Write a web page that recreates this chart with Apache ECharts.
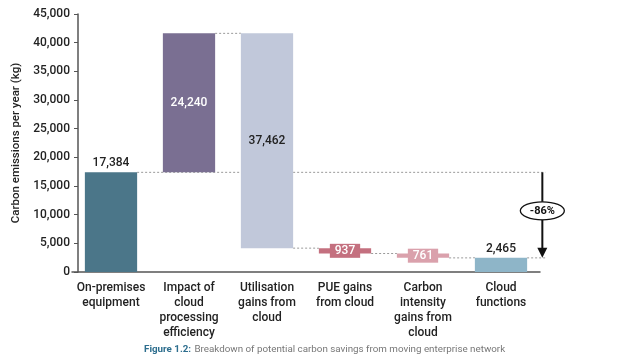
<!DOCTYPE html>
<html><head><meta charset="utf-8">
<script src="https://cdn.jsdelivr.net/npm/echarts@6/dist/echarts.min.js"></script>
<style>html,body{margin:0;padding:0;background:#fff}#c{width:627px;height:355px}</style>
</head><body><div id="c"></div>
<script>
const categories = ['On-premises\nequipment', 'Impact of\ncloud\nprocessing\nefficiency', 'Utilisation\ngains from\ncloud', 'PUE gains\nfrom cloud', 'Carbon\nintensity\ngains from\ncloud', 'Cloud\nfunctions'];
const values = [17384, 24240, -37462, -937, -761, 2465];
const kinds = ['total', 'delta', 'delta', 'delta', 'delta', 'total'];
const valueLabels = ['17,384', '24,240', '37,462', '937', '761', '2,465'];
const yMin = 0, yMax = 45000, yStep = 5000;
const yName = 'Carbon emissions per year (kg)';
const captionHead = 'Figure 1.2:';
const captionBody = 'Breakdown of potential carbon savings from moving enterprise network';

const barColors = ['#4b7689', '#7a6f92', '#c1c8da', '#c4707f', '#daa1ac', '#8eb5c8'];
const labelColors = ['#222', '#fff', '#222', '#fff', '#fff', '#222'];
const FONT = 'Roboto';

// build waterfall extents
let running = 0;
const wf = values.map((v, i) => {
  let lo, hi, end;
  if (kinds[i] === 'total') { lo = 0; hi = v; running = v; end = v; }
  else { const s = running; running += v; lo = Math.min(s, running); hi = Math.max(s, running); end = running; }
  return [i, lo, hi, end];
});
const pct = Math.round((values[values.length - 1] - values[0]) / values[0] * 100) + '%';

const BW = 0.67;
function barsRender(params, api) {
  const i = api.value(0), lo = api.value(1), hi = api.value(2);
  const band = api.size([1, 0])[0];
  const bw = band * BW;
  const pt = api.coord([i, hi]), pb = api.coord([i, lo]);
  const cx = pt[0];
  const ch = [];
  ch.push({ type: 'rect', shape: { x: cx - bw / 2, y: pt[1], width: bw, height: pb[1] - pt[1] }, style: { fill: barColors[i] } });
  const small = kinds[i] === 'delta' && (pb[1] - pt[1]) < 12;
  const txtStyle = (x, y, c) => ({ type: 'text', x, y, style: { text: valueLabels[i], fill: c, font: '500 12px ' + FONT, align: 'center', verticalAlign: 'middle' } });
  if (small) {
    const my = (pt[1] + pb[1]) / 2, boxW = bw * 0.58, boxH = 14;
    ch.push({ type: 'rect', shape: { x: cx - boxW / 2, y: my - boxH / 2, width: boxW, height: boxH }, style: { fill: barColors[i] } });
    ch.push(txtStyle(cx, my + 0.5, labelColors[i]));
  } else if (kinds[i] === 'total') {
    ch.push(txtStyle(cx, pt[1] - 9, labelColors[i]));
  } else {
    ch.push(txtStyle(cx, (pt[1] + pb[1]) / 2, labelColors[i]));
  }
  if (i === values.length - 1) {
    const ax = cx + band * 0.53;
    const yTop = api.coord([0, values[0]])[1];
    const yBot = pt[1];
    ch.push({ type: 'line', shape: { x1: ax, y1: yTop, x2: ax, y2: yBot - 8 }, style: { stroke: '#111', lineWidth: 2 } });
    ch.push({ type: 'polygon', shape: { points: [[ax - 5, yBot - 10], [ax + 5, yBot - 10], [ax, yBot]] }, style: { fill: '#111' } });
    const ey = yTop + (yBot - yTop) * 0.45;
    ch.push({ type: 'ellipse', shape: { cx: ax, cy: ey, rx: 22, ry: 9 }, style: { fill: '#fff', stroke: '#111', lineWidth: 1.3 } });
    ch.push({ type: 'text', x: ax, y: ey + 0.5, style: { text: pct, fill: '#111', font: 'bold 11px ' + FONT, align: 'center', verticalAlign: 'middle' } });
  }
  return { type: 'group', children: ch };
}

function connRender(params, api) {
  const i = api.value(0), end = api.value(3);
  const band = api.size([1, 0])[0];
  const bw = band * BW;
  const p = api.coord([i, end]);
  const n = values.length;
  let x2;
  if (i === 0 || i === n - 1) x2 = api.coord([n - 1, 0])[0] + band * 0.53 + 3;
  else x2 = api.coord([i + 1, 0])[0] - bw / 2;
  return { type: 'line', shape: { x1: p[0] + bw / 2, y1: p[1], x2, y2: p[1] }, style: { stroke: '#9a9a9a', lineWidth: 1, lineDash: [2, 2] } };
}

const chart = echarts.init(document.getElementById('c'));
chart.setOption({
  animation: false,
  grid: { left: 72, right: 87, top: 14, bottom: 83 },
  xAxis: {
    type: 'category', data: categories,
    axisLine: { lineStyle: { color: '#555', width: 1.5 } },
    axisTick: { show: false },
    axisLabel: { color: '#222', fontFamily: FONT, fontSize: 12, fontWeight: 500, lineHeight: 15, margin: 8, interval: 0 }
  },
  yAxis: {
    type: 'value', min: yMin, max: yMax, interval: yStep, offset: -6,
    name: yName, nameLocation: 'middle', nameGap: 52,
    nameTextStyle: { color: '#222', fontFamily: FONT, fontSize: 11.5, fontWeight: 500 },
    axisLine: { show: true, lineStyle: { color: '#555', width: 1.5 } },
    axisTick: { show: true, length: 4, lineStyle: { color: '#555' } },
    splitLine: { show: false },
    axisLabel: { color: '#222', fontFamily: FONT, fontSize: 12, fontWeight: 500, margin: 8,
      formatter: v => v.toLocaleString('en-US') }
  },
  series: [
    { type: 'custom', z: 1, renderItem: connRender, data: wf, encode: { x: 0, y: [1, 2] }, silent: true },
    { type: 'custom', z: 2, renderItem: barsRender, data: wf, encode: { x: 0, y: [1, 2] }, silent: true }
  ],
  graphic: [{
    type: 'text', left: 144, top: 344,
    style: { text: '{a|' + captionHead + '} {b|' + captionBody + '}', rich: {
      a: { fill: '#2d6e8e', font: 'bold 9.8px ' + FONT },
      b: { fill: '#777', font: '9.8px ' + FONT } } }
  }]
});
</script></body></html>
